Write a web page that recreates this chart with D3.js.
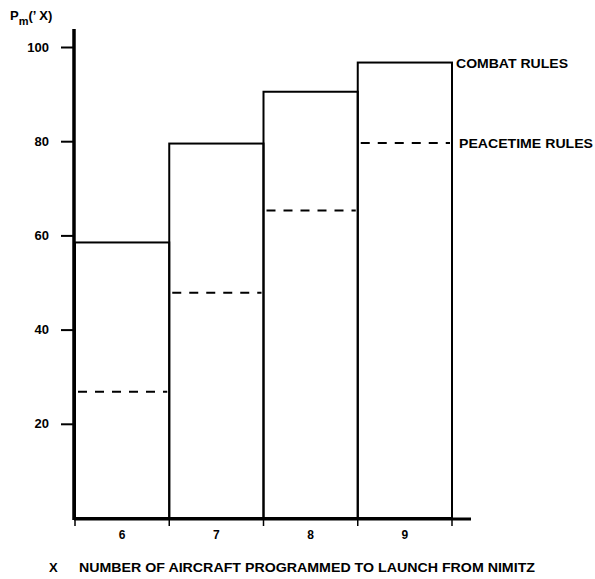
<!DOCTYPE html>
<html>
<head>
<meta charset="utf-8">
<script src="https://cdn.jsdelivr.net/npm/d3@7"></script>
<style>
  body { margin: 0; background: #fff; }
  text { font-family: "Liberation Sans Narrow", "Liberation Sans", sans-serif; font-weight: bold; fill: #000; }
</style>
</head>
<body>
<svg id="chart"></svg>
<script>
const categories = ['6', '7', '8', '9']
const combat = [58.5, 79.5, 90.5, 96.7]
const peacetime = [26.8, 47.8, 65.3, 79.6]
const yTicks = [20, 40, 60, 80, 100]

const width = 595, height = 579

const svg = d3.select('#chart')
    .attr('width', width)
    .attr('height', height)

const x = d3.scaleBand()
    .domain(categories)
    .range([75, 452])
    .padding(0)

const y = d3.scaleLinear()
    .domain([0, 100])
    .range([518, 47])

// y axis
const yAxis = svg.append('g')
    .attr('transform', 'translate(74,0)')
    .call(d3.axisLeft(y).tickValues(yTicks).tickSize(13).tickPadding(12))
yAxis.select('.domain').remove()
yAxis.selectAll('.tick line').attr('stroke', '#000').attr('stroke-width', 2)
yAxis.selectAll('.tick text')
    .style('font-size', '13px')
    .style('font-family', '"Liberation Sans Narrow", sans-serif')
    .style('font-weight', 'bold')

svg.append('line')
    .attr('x1', 74).attr('x2', 74)
    .attr('y1', y(0) + 2).attr('y2', y(103.8))
    .attr('stroke', '#000').attr('stroke-width', 3.5)

// x axis
const xAxis = svg.append('g')
    .attr('transform', `translate(0,${y(0) + 1})`)
    .call(d3.axisBottom(x).tickSize(0).tickPadding(11))
xAxis.select('.domain').remove()
xAxis.selectAll('.tick text')
    .style('font-size', '12px')
    .style('font-family', '"Liberation Sans Narrow", sans-serif')
    .style('font-weight', 'bold')

svg.append('line')
    .attr('x1', 74).attr('x2', 471)
    .attr('y1', y(0) + 1).attr('y2', y(0) + 1)
    .attr('stroke', '#000').attr('stroke-width', 3)

// small ticks at bar edges below the axis
svg.append('g')
    .selectAll('line')
    .data(categories.map(c => x(c)).concat([x.range()[1]]))
    .join('line')
    .attr('x1', d => d).attr('x2', d => d)
    .attr('y1', y(0)).attr('y2', y(0) + 8)
    .attr('stroke', '#000').attr('stroke-width', 1.5)

// combat rules bars (outlined)
svg.append('g')
    .selectAll('rect')
    .data(combat)
    .join('rect')
    .attr('x', (d, i) => x(categories[i]))
    .attr('y', d => y(d))
    .attr('width', x.bandwidth())
    .attr('height', d => y(0) - y(d))
    .attr('fill', 'none')
    .attr('stroke', '#000')
    .attr('stroke-width', 2)

// peacetime rules (dashed)
svg.append('g')
    .selectAll('line')
    .data(peacetime)
    .join('line')
    .attr('x1', (d, i) => x(categories[i]) + 3)
    .attr('x2', (d, i) => x(categories[i]) + x.bandwidth() - 2)
    .attr('y1', d => y(d))
    .attr('y2', d => y(d))
    .attr('stroke', '#000')
    .attr('stroke-width', 2)
    .attr('stroke-dasharray', '9,8')

// series labels
svg.append('text')
    .attr('x', 456).attr('y', 68)
    .style('font-size', '13px')
    .attr('textLength', 112)
    .attr('lengthAdjust', 'spacingAndGlyphs')
    .text('COMBAT RULES')

svg.append('text')
    .attr('x', 459).attr('y', 148)
    .style('font-size', '13px')
    .attr('textLength', 134)
    .attr('lengthAdjust', 'spacingAndGlyphs')
    .text('PEACETIME RULES')

// y axis title
const yt = svg.append('text')
    .attr('x', 10).attr('y', 20)
    .style('font-size', '13px')
yt.append('tspan').text('P')
yt.append('tspan').attr('dy', 5).style('font-size', '11px').text('m')
yt.append('tspan').attr('dy', -5).text('(’ X)')

// x axis title
svg.append('text')
    .attr('x', 49).attr('y', 572)
    .style('font-size', '13px')
    .text('X')

svg.append('text')
    .attr('x', 79).attr('y', 572)
    .style('font-size', '13px')
    .attr('textLength', 456)
    .attr('lengthAdjust', 'spacingAndGlyphs')
    .text('NUMBER OF AIRCRAFT PROGRAMMED TO LAUNCH FROM NIMITZ')
</script>
</body>
</html>
